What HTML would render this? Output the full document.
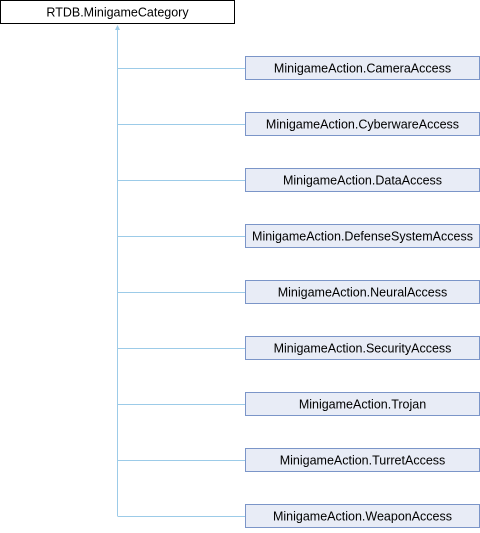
<!DOCTYPE html>
<html><head><style>
body{margin:0;width:480px;height:528px;background:#fff;overflow:hidden}
svg text{font-family:"Liberation Sans",sans-serif;font-size:12.5px}
</style></head><body>
<svg width="480" height="528" xmlns="http://www.w3.org/2000/svg">
<rect x="0.5" y="0.5" width="234" height="23" fill="#fff" stroke="#000"/>
<text x="117.5" y="16.5" text-anchor="middle">RTDB.MinigameCategory</text>
<g stroke="#9ccbe8" fill="none">
<line x1="117.5" y1="28" x2="117.5" y2="516"/>
<line x1="117.5" y1="68.5" x2="245" y2="68.5"/>
<line x1="117.5" y1="124.5" x2="245" y2="124.5"/>
<line x1="117.5" y1="180.5" x2="245" y2="180.5"/>
<line x1="117.5" y1="236.5" x2="245" y2="236.5"/>
<line x1="117.5" y1="292.5" x2="245" y2="292.5"/>
<line x1="117.5" y1="348.5" x2="245" y2="348.5"/>
<line x1="117.5" y1="404.5" x2="245" y2="404.5"/>
<line x1="117.5" y1="460.5" x2="245" y2="460.5"/>
<line x1="117.5" y1="516.5" x2="245" y2="516.5"/>
</g>
<polygon points="117.5,25 115,30 120,30" fill="#9ccbe8"/>
<g fill="#e8ecf6" stroke="#7b95c8">
<rect x="245.5" y="56.5" width="234" height="23"/>
<rect x="245.5" y="112.5" width="234" height="23"/>
<rect x="245.5" y="168.5" width="234" height="23"/>
<rect x="245.5" y="224.5" width="234" height="23"/>
<rect x="245.5" y="280.5" width="234" height="23"/>
<rect x="245.5" y="336.5" width="234" height="23"/>
<rect x="245.5" y="392.5" width="234" height="23"/>
<rect x="245.5" y="448.5" width="234" height="23"/>
<rect x="245.5" y="504.5" width="234" height="23"/>
</g>
<g text-anchor="middle">
<text x="362.5" y="72.5">MinigameAction.CameraAccess</text>
<text x="362.5" y="128.5">MinigameAction.CyberwareAccess</text>
<text x="362.5" y="184.5">MinigameAction.DataAccess</text>
<text x="362.5" y="240.5">MinigameAction.DefenseSystemAccess</text>
<text x="362.5" y="296.5">MinigameAction.NeuralAccess</text>
<text x="362.5" y="352.5">MinigameAction.SecurityAccess</text>
<text x="362.5" y="408.5">MinigameAction.Trojan</text>
<text x="362.5" y="464.5">MinigameAction.TurretAccess</text>
<text x="362.5" y="520.5">MinigameAction.WeaponAccess</text>
</g>
</svg>
</body></html>
